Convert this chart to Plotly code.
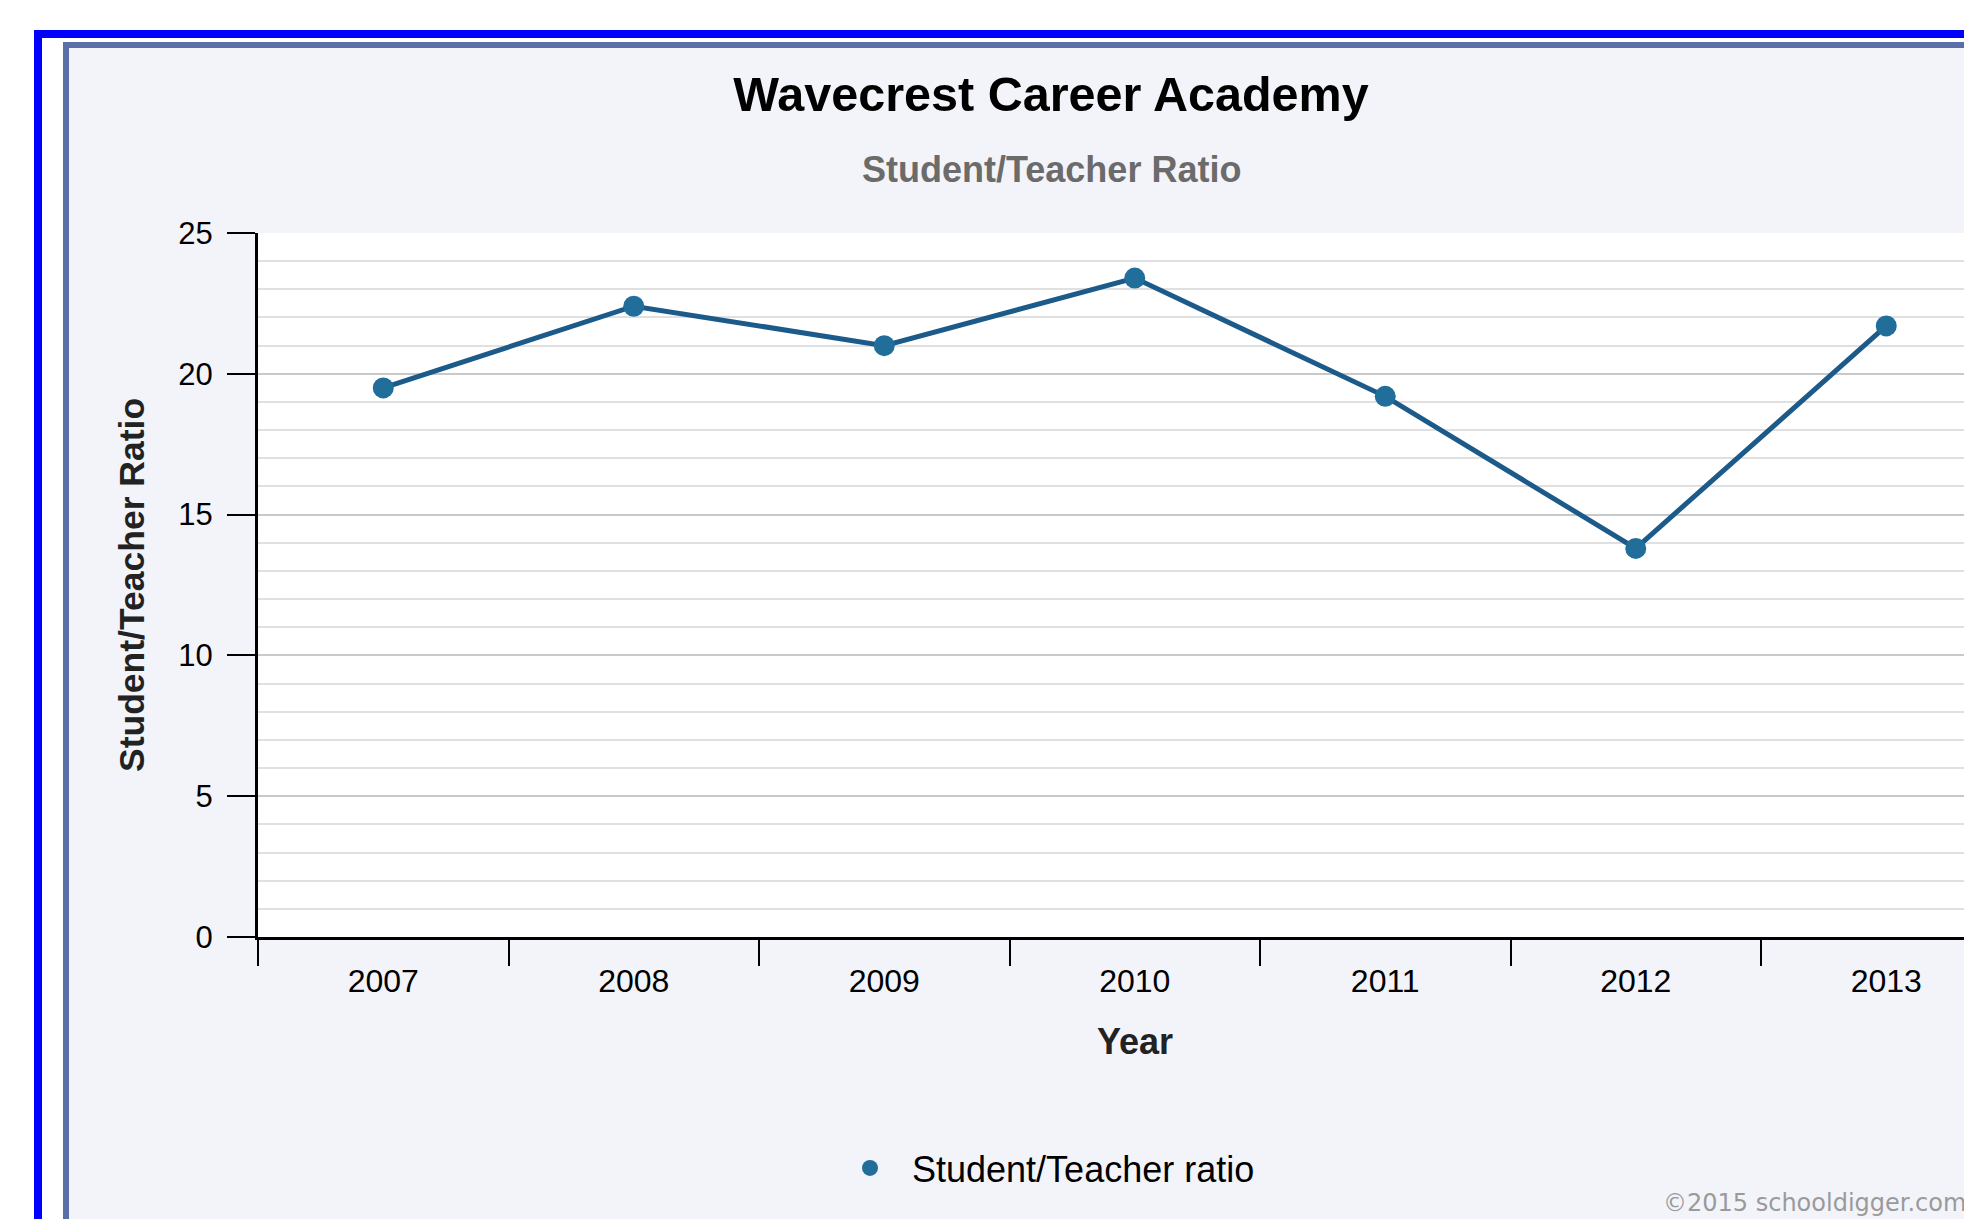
import plotly.graph_objects as go

# ---- data ----
years = ["2007", "2008", "2009", "2010", "2011", "2012", "2013"]
ratios = [19.5, 22.4, 21.0, 23.4, 19.2, 13.8, 21.7]
y_ticks = [0, 5, 10, 15, 20, 25]

title_text = "Wavecrest Career Academy"
subtitle_text = "Student/Teacher Ratio"
y_title = "Student/Teacher Ratio"
x_title = "Year"
series_name = "Student/Teacher ratio"
credit = "©2015 schooldigger.com"

# ---- layout geometry (page pixels; the html body has an 8px margin) ----
OFF = 8
W, H = 1972 - OFF, 1219 - OFF
L, R, T, B = 258 - OFF, W, 233 - OFF, 937 - OFF
PW, PH = R - L, B - T

def px(x):
    """page x pixel -> paper coordinate"""
    return (x - OFF - L) / PW

def py(y):
    """page y pixel -> paper coordinate"""
    return (B - (y - OFF)) / PH

LINE = "#1b5a89"
MARK = "#216e9b"
FONT = "Arial, Liberation Sans, sans-serif"

fig = go.Figure()
fig.add_trace(go.Scatter(
    x=years, y=ratios, mode="lines+markers", name=series_name,
    line=dict(color=LINE, width=5),
    marker=dict(color=MARK, size=21, line=dict(width=0)),
    showlegend=False, cliponaxis=False,
))
# legend entry (marker only, as in the original)
fig.add_trace(go.Scatter(
    x=[None], y=[None], mode="markers", name=series_name,
    marker=dict(color=MARK, size=21), showlegend=True,
))

shapes = [
    # outer blue frame
    dict(type="rect", xref="paper", yref="paper", layer="below",
         x0=px(38), y0=py(34), x1=px(2300), y1=py(1500),
         line=dict(color="#0000ff", width=8), fillcolor="rgba(0,0,0,0)"),
    # inner frame with chart background
    dict(type="rect", xref="paper", yref="paper", layer="below",
         x0=px(66), y0=py(45), x1=px(2300), y1=py(1500),
         line=dict(color="#5a6ea8", width=6), fillcolor="#f3f4fa"),
    # plot area background
    dict(type="rect", xref="paper", yref="paper", layer="below",
         x0=0, y0=0, x1=1, y1=1, line=dict(width=0), fillcolor="#ffffff"),
]

annotations = [
    dict(text="<b>" + subtitle_text + "</b>", xref="paper", yref="paper",
         x=px(1051), y=py(170), xanchor="center", yanchor="middle",
         showarrow=False, font=dict(family=FONT, size=36, color="#6b6b6b")),
    dict(text="<b>" + y_title + "</b>", xref="paper", yref="paper",
         x=px(132), y=0.5, xanchor="center", yanchor="middle", textangle=-90,
         showarrow=False, font=dict(family=FONT, size=35.5, color="#222222")),
    dict(text="<b>" + x_title + "</b>", xref="x", yref="paper",
         x=(len(years) - 1) / 2, y=py(1041), xanchor="center", yanchor="middle",
         showarrow=False, font=dict(family=FONT, size=36, color="#222222")),
    dict(text=credit, xref="paper", yref="paper",
         x=px(1968), y=py(1203), xanchor="right", yanchor="middle",
         showarrow=False, font=dict(family="DejaVu Sans, Verdana, sans-serif", size=24, color="#9a9a9a")),
]

fig.update_layout(
    width=W, height=H,
    margin=dict(l=L, r=W - R, t=T, b=H - B, pad=0),
    paper_bgcolor="#ffffff",
    plot_bgcolor="rgba(0,0,0,0)",
    title=dict(text="<b>" + title_text + "</b>", x=(1051 - OFF) / W, xanchor="center",
               y=1 - (94 - OFF) / H, yanchor="middle", yref="container",
               font=dict(family=FONT, size=48.5, color="#000000")),
    font=dict(family=FONT, color="#111111"),
    shapes=shapes,
    annotations=annotations,
    showlegend=True,
    legend=dict(orientation="h", x=px(870 - 42), xanchor="left", y=py(1168), yanchor="middle",
                bgcolor="rgba(0,0,0,0)", font=dict(family=FONT, size=36, color="#000000"),
                itemwidth=74, borderwidth=0, itemclick=False),
    xaxis=dict(type="category", range=[-0.5, -0.5 + PW / 250.5], tickson="boundaries",
               ticks="outside", ticklen=26, tickwidth=2, tickcolor="#000000",
               showline=True, linecolor="#000000", linewidth=3, showgrid=False,
               zeroline=False, tickfont=dict(family=FONT, size=32, color="#000000"),
               ticklabelstandoff=14, fixedrange=True),
    yaxis=dict(range=[0, 25], tickvals=y_ticks, ticks="outside", ticklen=28, tickwidth=2,
               tickcolor="#000000", showline=True, linecolor="#000000", linewidth=3,
               showgrid=True, gridcolor="#c9c9c9", gridwidth=2, zeroline=False,
               minor=dict(dtick=1, showgrid=True, gridcolor="#e0e0e0", gridwidth=1.5, ticks=""),
               tickfont=dict(family=FONT, size=31, color="#000000"),
               ticklabelstandoff=8, fixedrange=True),
)

fig.write_html("out.html", config=dict(displayModeBar=False))
